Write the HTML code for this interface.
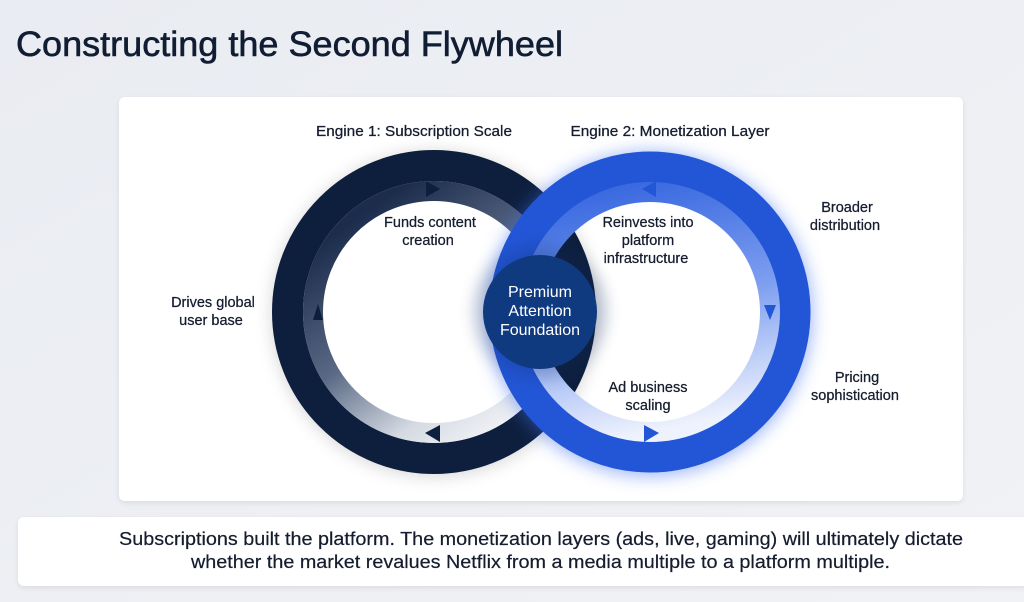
<!DOCTYPE html>
<html><head><meta charset="utf-8"><style>
html,body{margin:0;padding:0;width:1024px;height:602px;overflow:hidden;background:#eceef3;}
svg{display:block}
</style></head><body>
<svg width="1024" height="602" viewBox="0 0 1024 602" xmlns="http://www.w3.org/2000/svg" font-family="Liberation Sans, Arial, sans-serif">
<defs>
<linearGradient id="bg" x1="0" y1="0" x2="1" y2="1">
<stop offset="0" stop-color="#e9ecf2"/><stop offset="1" stop-color="#f1f2f5"/>
</linearGradient>
<linearGradient id="lin" x1="0.2" y1="0.1" x2="0.8" y2="0.95">
<stop offset="0" stop-color="#1c2c4c"/><stop offset="0.45" stop-color="#5a6a85"/><stop offset="0.8" stop-color="#d5dae2"/><stop offset="1" stop-color="#eef0f4"/>
</linearGradient>
<linearGradient id="rin" x1="0.3" y1="0" x2="0.5" y2="1">
<stop offset="0" stop-color="#3b6ae0"/><stop offset="0.5" stop-color="#7e9ff0"/><stop offset="1" stop-color="#eef2fd"/>
</linearGradient>
<filter id="glow" x="-30%" y="-30%" width="160%" height="160%"><feGaussianBlur stdDeviation="8"/></filter>
<filter id="sh" x="-10%" y="-10%" width="120%" height="130%"><feGaussianBlur stdDeviation="3"/></filter>
</defs>
<rect width="1024" height="602" fill="url(#bg)"/>
<text x="16" y="56" font-size="35" fill="#111d33" stroke="#111d33" stroke-width="0.6" textLength="547" lengthAdjust="spacingAndGlyphs">Constructing the Second Flywheel</text>

<rect x="119" y="99" width="844" height="404" rx="6" fill="#000" opacity="0.08" filter="url(#sh)"/>
<rect x="119" y="97" width="844" height="404" rx="6" fill="#fff"/>

<text font-size="14.5" fill="#141c2e" stroke="#141c2e" stroke-width="0.25" text-anchor="middle">
<tspan x="416" y="136" textLength="196" lengthAdjust="spacingAndGlyphs">Engine 1: Subscription Scale</tspan>
<tspan x="670" y="136" textLength="199" lengthAdjust="spacingAndGlyphs">Engine 2: Monetization Layer</tspan>
</text>

<!-- left ring -->
<circle cx="434" cy="314" r="147" fill="none" stroke="#000" stroke-opacity="0.15" stroke-width="32" filter="url(#glow)"/>
<circle cx="434" cy="312" r="146.5" fill="none" stroke="#0e1f3d" stroke-width="31"/>
<circle cx="434" cy="312" r="121" fill="none" stroke="url(#lin)" stroke-width="20"/>
<!-- right ring -->
<circle cx="650" cy="314" r="145" fill="none" stroke="#3a6cf0" stroke-opacity="0.45" stroke-width="36" filter="url(#glow)"/>
<circle cx="650" cy="312" r="145" fill="none" stroke="#2356d6" stroke-width="31"/>
<circle cx="650" cy="312" r="120" fill="none" stroke="url(#rin)" stroke-width="20"/>
<circle cx="540" cy="312" r="66" fill="#0d2c66" opacity="0.25" filter="url(#glow)"/>
<circle cx="540" cy="312" r="57" fill="#103a80"/>
<text font-size="16" fill="#fff" text-anchor="middle">
<tspan x="540" y="297">Premium</tspan><tspan x="540" y="316">Attention</tspan><tspan x="540" y="335">Foundation</tspan>
</text>

<polygon points="426,181 440,189 426,197" fill="#0e1f3d"/>
<polygon points="313,320 318,304 323,320" fill="#0e1f3d"/>
<polygon points="440,425 425,433 440,442" fill="#0e1f3d"/>
<polygon points="656,181 642,189 656,197" fill="#2356d6"/>
<polygon points="764,305 770,320 776,305" fill="#2356d6"/>
<polygon points="644,425 659,433 644,442" fill="#2356d6"/>

<text font-size="14.5" fill="#141c2e" stroke="#141c2e" stroke-width="0.25" text-anchor="middle">
<tspan x="430" y="227">Funds content</tspan><tspan x="430" y="245">creation</tspan>
<tspan x="648" y="227">Reinvests into</tspan><tspan x="648" y="245">platform</tspan><tspan x="648" y="263">infrastructure</tspan>
<tspan x="213" y="307">Drives global</tspan><tspan x="213" y="325">user base</tspan>
<tspan x="847" y="212">Broader</tspan><tspan x="847" y="230">distribution</tspan>
<tspan x="857" y="382">Pricing</tspan><tspan x="857" y="400">sophistication</tspan>
<tspan x="648" y="392">Ad business</tspan><tspan x="648" y="410">scaling</tspan>
</text>

<rect x="18" y="519" width="1020" height="69" rx="6" fill="#000" opacity="0.08" filter="url(#sh)"/>
<rect x="18" y="517" width="1020" height="69" rx="6" fill="#fff"/>
<text font-size="18" fill="#141c2e" stroke="#141c2e" stroke-width="0.2">
<tspan x="119" y="545" textLength="844" lengthAdjust="spacingAndGlyphs">Subscriptions built the platform. The monetization layers (ads, live, gaming) will ultimately dictate</tspan>
<tspan x="191" y="568" textLength="699" lengthAdjust="spacingAndGlyphs">whether the market revalues Netflix from a media multiple to a platform multiple.</tspan>
</text>
</svg>
</body></html>
